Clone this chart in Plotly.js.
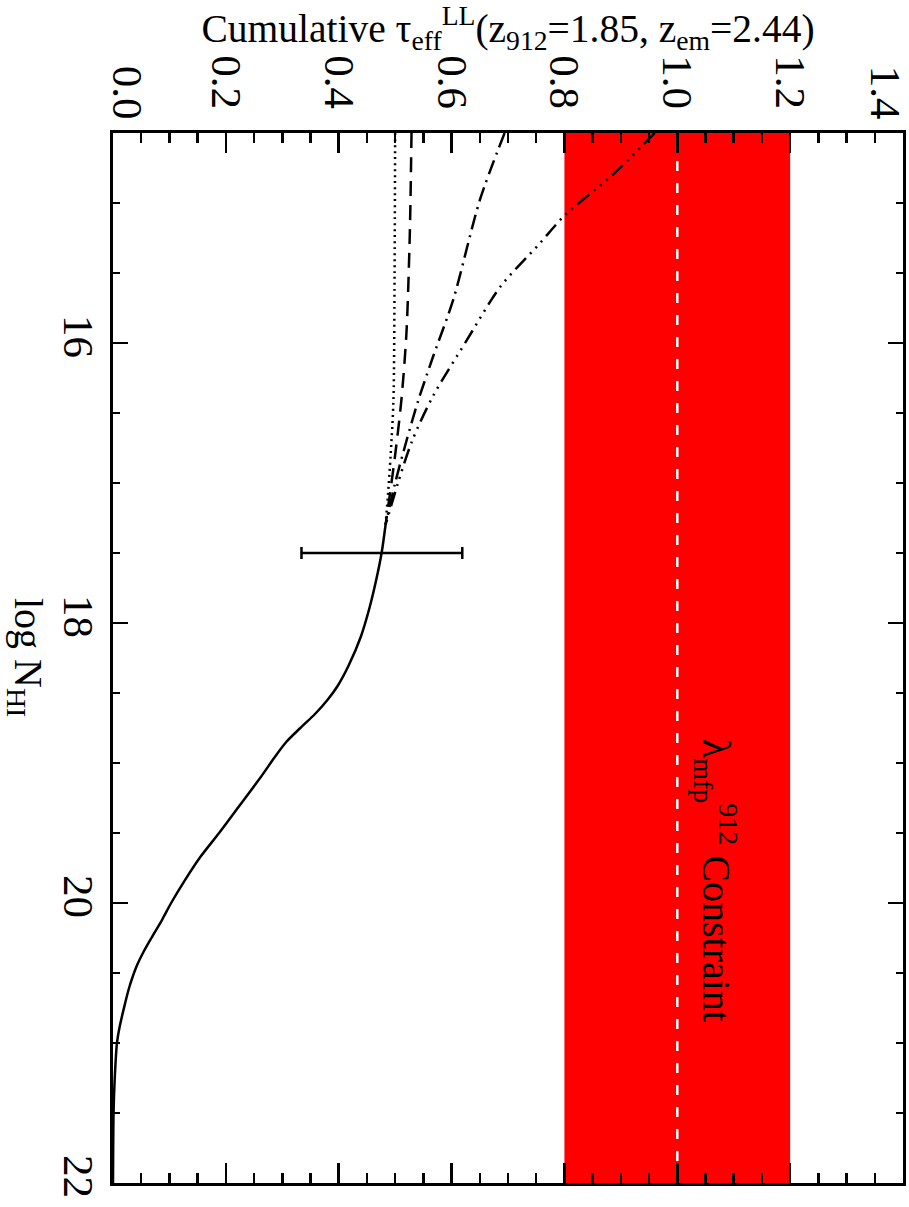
<!DOCTYPE html>
<html>
<head>
<meta charset="utf-8">
<script src="https://cdn.plot.ly/plotly-3.0.1.min.js"></script>
<style>
  html, body { margin: 0; padding: 0; background: #fff; }
</style>
</head>
<body>
<div id="chart" style="width:909px;height:1207px;"></div>
<script>
// ---- data (log N_HI vs cumulative tau_eff^LL) ----
const logN_solid = [17.3, 17.5, 17.7, 17.9, 18.1, 18.3, 18.45, 18.55, 18.65, 18.75, 18.85, 18.95, 19.1, 19.3, 19.5, 19.67, 19.84, 20.0, 20.12, 20.25, 20.35, 20.45, 20.6, 20.74, 20.9, 21.0, 21.26, 21.5, 22.0];
const tau_solid  = [0.483, 0.476, 0.466, 0.454, 0.439, 0.418, 0.398, 0.380, 0.358, 0.332, 0.307, 0.288, 0.262, 0.225, 0.188, 0.155, 0.127, 0.103, 0.087, 0.068, 0.054, 0.042, 0.029, 0.020, 0.011, 0.007, 0.003, 0.001, 0.0];

const logN_dot = [14.5, 15.5, 16.41, 16.8, 17.1, 17.3];
const tau_dot  = [0.500, 0.499, 0.497, 0.492, 0.487, 0.483];

const logN_dash = [14.5, 15.22, 15.93, 16.41, 16.8, 17.1, 17.3];
const tau_dash  = [0.529, 0.526, 0.520, 0.511, 0.500, 0.490, 0.483];

const logN_dashdot = [14.5, 14.98, 15.69, 16.1, 16.41, 16.7, 17.0, 17.3];
const tau_dashdot  = [0.694, 0.650, 0.603, 0.567, 0.541, 0.52, 0.50, 0.483];

const logN_dash3dot = [14.5, 14.8, 15.09, 15.29, 15.6, 15.98, 16.38, 16.7, 17.0, 17.3];
const tau_dash3dot  = [0.960, 0.885, 0.80, 0.756, 0.686, 0.627, 0.567, 0.53, 0.505, 0.483];

const errPoint_logN = [17.5];
const errPoint_tau  = [0.476];
const errPlus  = [0.143];
const errMinus = [0.142];

const bandLow = 0.8, bandHigh = 1.2, bandMid = 1.0;
const constraintLabelPos = [1.070, 19.84];   // [tau, logN]

const nTicks = [16, 18, 20, 22];
const nTickText = ['16', '18', '20', '22'];
const tauTicksMid = [0.2, 0.4, 0.6, 0.8, 1.0, 1.2];
const tauTickTextMid = ['0.2', '0.4', '0.6', '0.8', '1.0', '1.2'];
const tauTickLow = [0.0], tauTickTextLow = ['0.0'];
const tauTickHigh = [1.4], tauTickTextHigh = ['1.4'];

// ---- chart ----
const FONT = '"Liberation Serif", "Times New Roman", serif';
function ln(extra) { return Object.assign({color: '#000', width: 2.5, shape: 'spline', smoothing: 0.8}, extra || {}); }

const traces = [
  {x: tau_solid, y: logN_solid, mode: 'lines', line: ln(), showlegend: false},
  {x: tau_dot, y: logN_dot, mode: 'lines', line: ln({dash: '2px,4px'}), showlegend: false},
  {x: tau_dash, y: logN_dash, mode: 'lines', line: ln({dash: '15px,9px'}), showlegend: false},
  {x: tau_dashdot, y: logN_dashdot, mode: 'lines', line: ln({dash: '15px,6px,2px,6px'}), showlegend: false},
  {x: tau_dash3dot, y: logN_dash3dot, mode: 'lines', line: ln({dash: '15px,6px,2px,6px,2px,6px,2px,6px'}), showlegend: false},
  {x: errPoint_tau, y: errPoint_logN, mode: 'markers', marker: {size: 1, color: '#000'},
   error_x: {type: 'data', symmetric: false, array: errPlus, arrayminus: errMinus, color: '#000', thickness: 2.5, width: 6},
   showlegend: false},
  {x: [0], y: [14.5], xaxis: 'x2', yaxis: 'y', mode: 'markers', marker: {opacity: 0}, showlegend: false},
  {x: [0], y: [14.5], xaxis: 'x3', yaxis: 'y', mode: 'markers', marker: {opacity: 0}, showlegend: false}
];

const tickFont = {family: FONT, size: 43, color: '#000'};
const axisCommon = {
  showgrid: false, zeroline: false, showline: true, linecolor: '#000', linewidth: 3,
  mirror: 'ticks', ticks: 'inside', tickcolor: '#000', tickwidth: 2.5, tickfont: tickFont, tickangle: 90
};

const layout = {
  width: 909, height: 1207,
  margin: {l: 113, r: 6, t: 133, b: 24},
  paper_bgcolor: '#fff', plot_bgcolor: '#fff',
  font: {family: FONT, color: '#000'},
  xaxis: Object.assign({}, axisCommon, {
    side: 'top', range: [0, 1.4], tickvals: tauTicksMid, ticktext: tauTickTextMid, ticklen: 20,
    minor: {dtick: 0.05, tick0: 0, ticks: 'inside', ticklen: 10, tickwidth: 2.5, tickcolor: '#000'},
    ticklabelstandoff: 6,
    title: {text: 'Cumulative τ<sub>eff</sub><sup>LL</sup>(z<sub>912</sub>=1.85, z<sub>em</sub>=2.44)', font: {family: FONT, size: 39.5, color: '#000'}, standoff: 4}
  }),
  xaxis2: {overlaying: 'x', side: 'top', range: [0, 1.4], tickvals: tauTickLow, ticktext: tauTickTextLow, showline: false, showgrid: false, zeroline: false,
    ticks: '', tickangle: 90, ticklabelstandoff: 6, ticklabelshift: 14, tickfont: tickFont},
  xaxis3: {overlaying: 'x', side: 'top', range: [0, 1.4001], tickvals: tauTickHigh, ticktext: tauTickTextHigh, showline: false, showgrid: false, zeroline: false,
    ticks: '', tickangle: 90, ticklabelstandoff: 6, ticklabelshift: -18, tickfont: tickFont, ticklabeloverflow: 'allow'},
  yaxis: Object.assign({}, axisCommon, {
    range: [22, 14.5], tickvals: nTicks, ticktext: nTickText, ticklen: 15,
    minor: {dtick: 0.5, tick0: 0, ticks: 'inside', ticklen: 7, tickwidth: 2.5, tickcolor: '#000'},
    ticklabelstandoff: -6
  }),
  shapes: [
    {type: 'rect', xref: 'x', yref: 'paper', x0: bandLow, x1: bandHigh, y0: 0, y1: 1, fillcolor: '#ff0000', line: {width: 0}, layer: 'below'},
    {type: 'line', xref: 'x', yref: 'paper', x0: bandMid, x1: bandMid, y0: 0, y1: 1, line: {color: '#fff', width: 2.5, dash: '10px,12px'}, layer: 'below'}
  ],
  annotations: [
    {x: constraintLabelPos[0], y: constraintLabelPos[1], xref: 'x', yref: 'y', showarrow: false, textangle: 90,
     text: 'λ<sub>mfp</sub><sup>912</sup> Constraint', font: {family: FONT, size: 40, color: '#000'},
     xanchor: 'center', yanchor: 'middle'},
    {x: -0.11, y: 0.5, xref: 'paper', yref: 'paper', showarrow: false, textangle: 90,
     text: 'log N<sub>HI</sub>', font: {family: FONT, size: 40, color: '#000'},
     xanchor: 'center', yanchor: 'middle'}
  ]
};

Plotly.newPlot('chart', traces, layout, {staticPlot: true, displayModeBar: false});
</script>
</body>
</html>
